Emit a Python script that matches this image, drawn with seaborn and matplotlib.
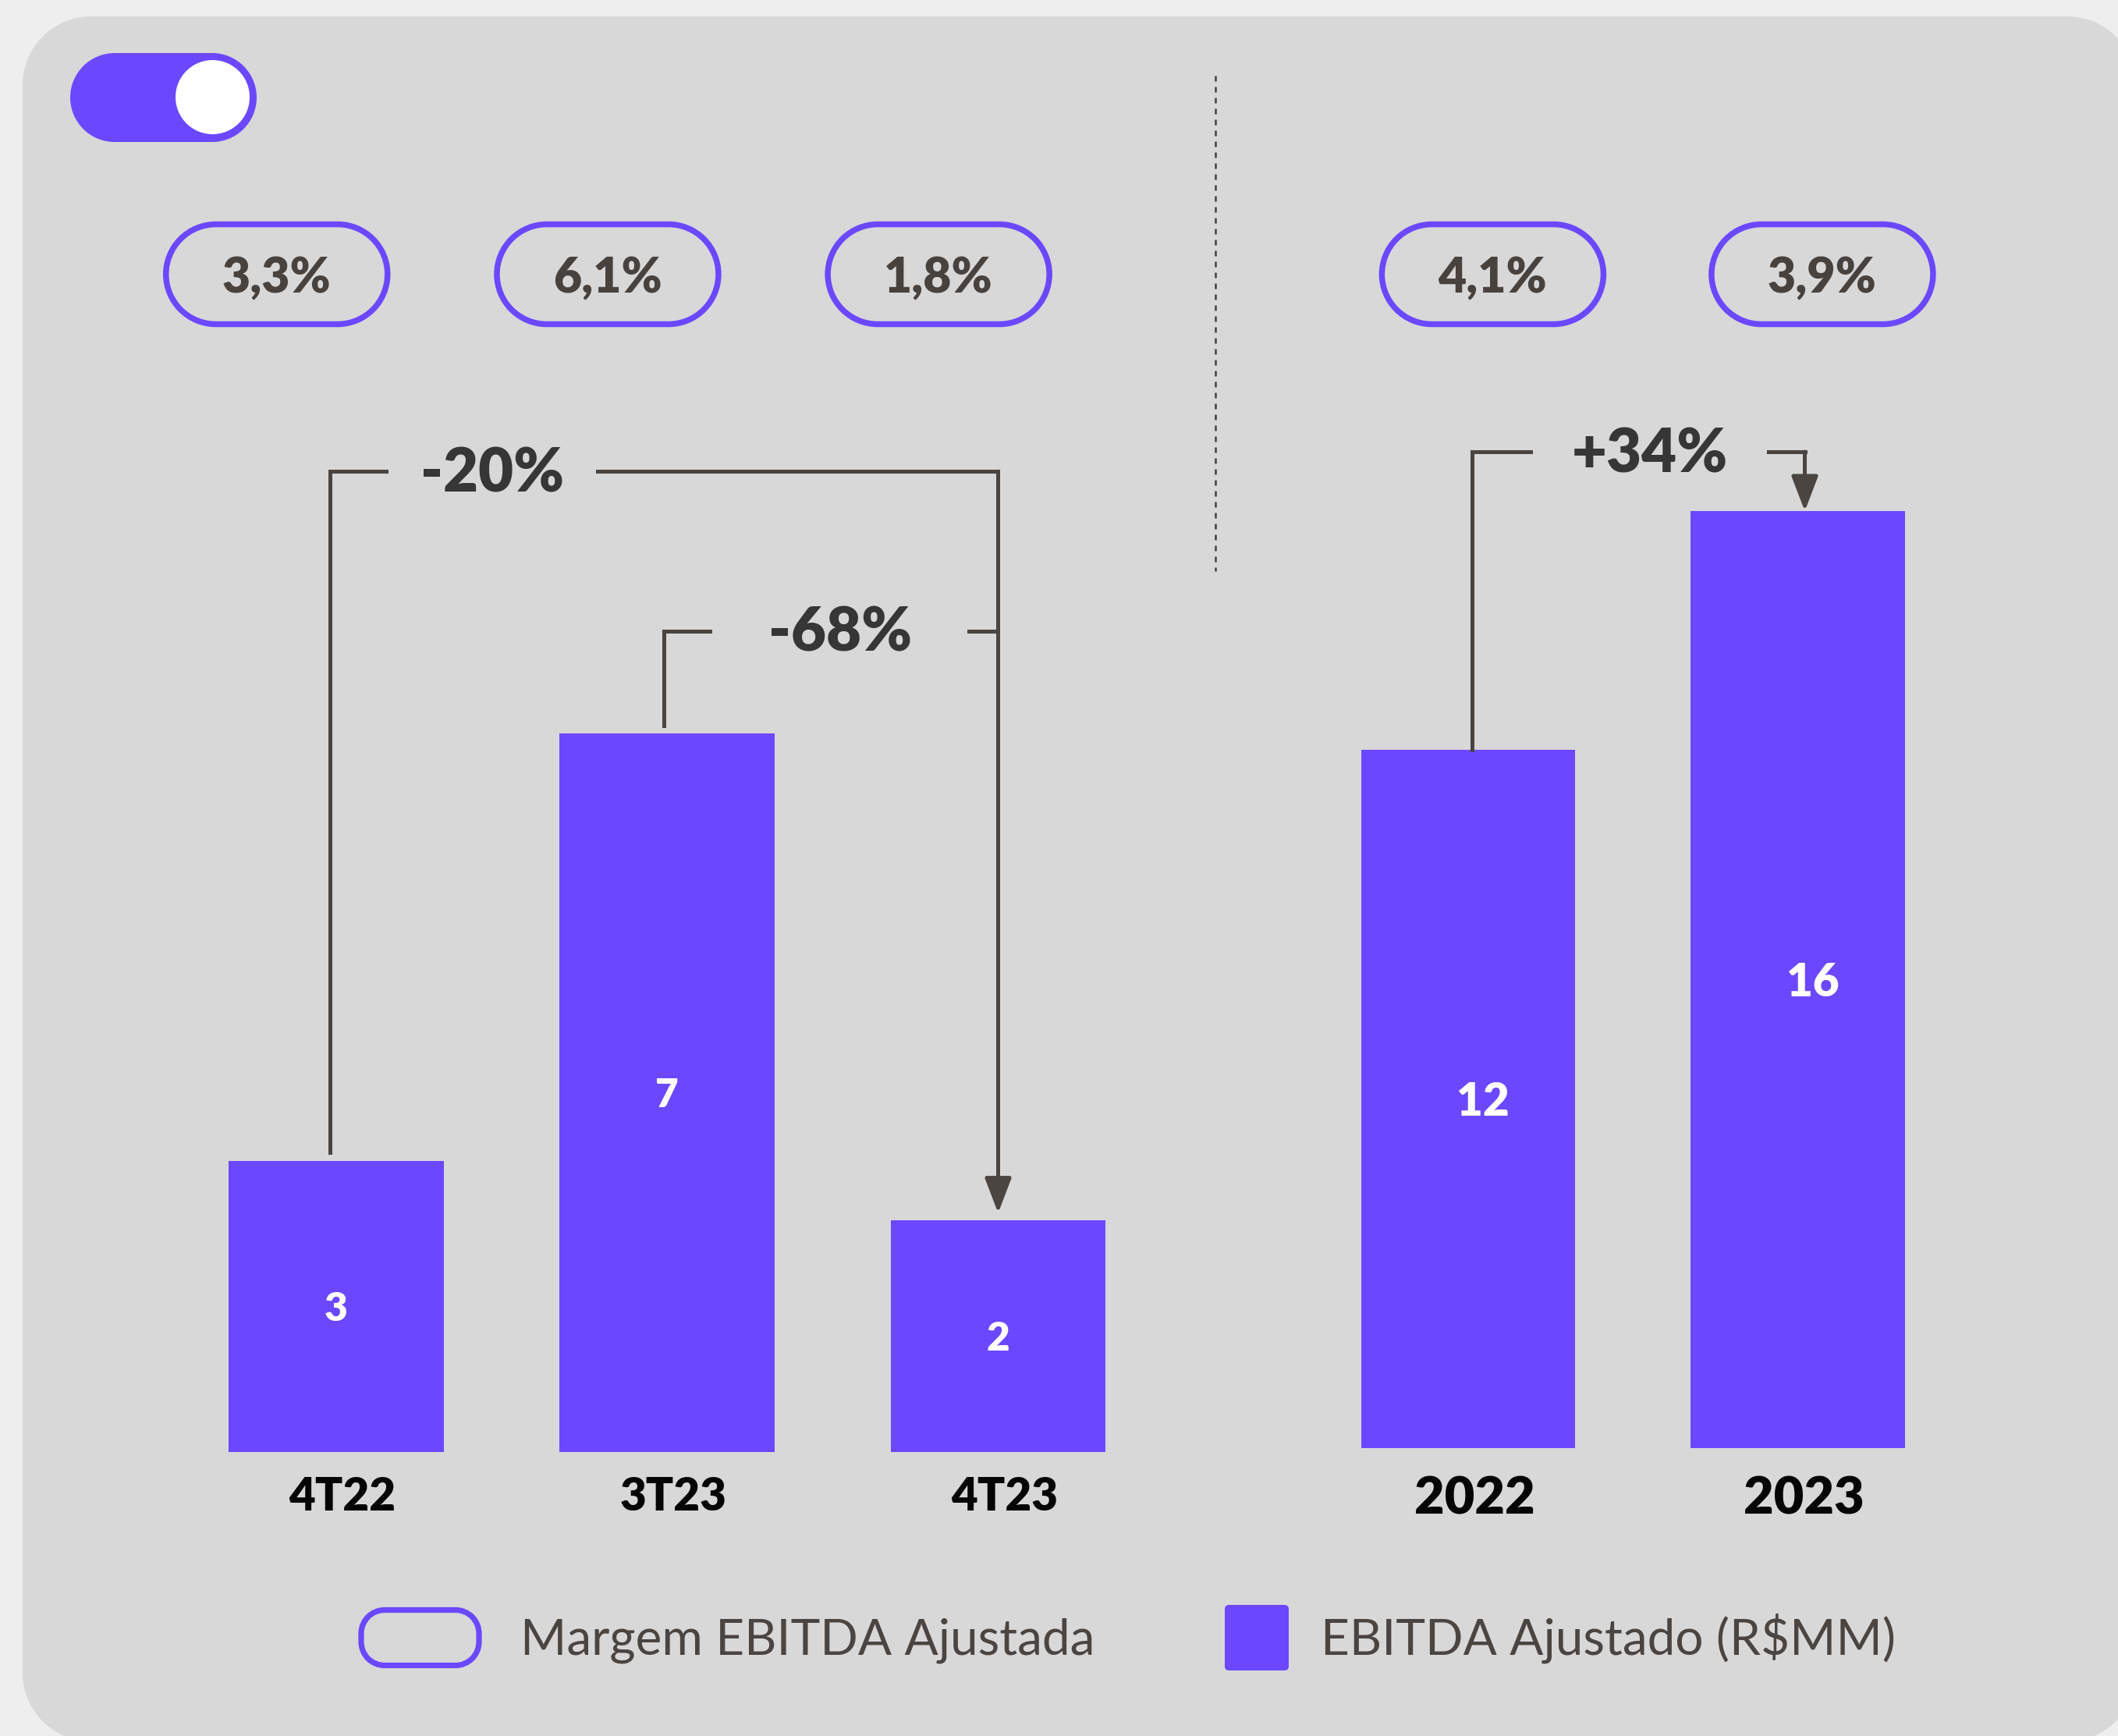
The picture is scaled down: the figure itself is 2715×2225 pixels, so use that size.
#coding:utf-8
import matplotlib
matplotlib.use('Agg')
import matplotlib.pyplot as plt
from matplotlib.patches import PathPatch, Circle
from matplotlib.path import Path
from matplotlib.transforms import ScaledTranslation
import seaborn as sns
import pandas as pd

# dados (EBITDA ajustado em R$MM e margem em %)
quarters = ['4T22', '3T23', '4T23']
ebitda_quarter = [2.84, 7.0, 2.26]
margin_quarter = [3.3, 6.1, 1.8]

years = ['2022', '2023']
ebitda_year = [12.0, 16.1]
margin_year = [4.1, 3.9]

quarter_changes = ['-20%', '-68%']
year_changes = ['+34%']

legend_labels = ['Margem EBITDA Ajustada', 'EBITDA Ajustado (R$MM)']

PURPLE = '#6B48FF'
CARD = '#D8D8D8'
OUTER = '#EEEEEE'
LINE = '#4A4541'
PILL_TEXT = '#48423E'
CHANGE_TEXT = '#363636'

W, H = 2715, 2225
DPI = 100
LW = 3.6


def px_axes(fig, x0, x1, y_base, y_top):
    # eixo posicionado em pixels da figura (y de cima para baixo)
    return fig.add_axes([x0 / W, 1 - y_base / H, (x1 - x0) / W, (y_base - y_top) / H])


def rounded_rect(x0, y0, w, h, r):
    # retângulo com cantos em arco de círculo verdadeiro
    x1, y1 = x0 + w, y0 + h
    parts = [((x1 - r, y0 + r), -90, 0), ((x1 - r, y1 - r), 0, 90),
             ((x0 + r, y1 - r), 90, 180), ((x0 + r, y0 + r), 180, 270)]
    verts, codes = [], []
    for (cx, cy), a0, a1 in parts:
        arc = Path.arc(a0, a1)
        c = list(arc.codes)
        if verts:
            c[0] = Path.LINETO
        verts.extend((arc.vertices * r + [cx, cy]).tolist())
        codes.extend(c)
    verts.append(verts[0])
    codes.append(Path.CLOSEPOLY)
    return Path(verts, codes)


def box(bg, x0, y0, w, h, r, **kw):
    bg.add_patch(PathPatch(rounded_rect(x0, y0, w, h, r), **kw))


def bars(fig, ax, labels, values, ymax, label_size, tick_size, tick_pad, label_dx=0.0):
    df = pd.DataFrame({'periodo': labels, 'ebitda': values})
    sns.barplot(data=df, x='periodo', y='ebitda', ax=ax, color=PURPLE,
                saturation=1, width=0.65, errorbar=None, linewidth=0)
    ax.set_xlim(-0.5, len(labels) - 0.5)
    ax.set_ylim(0, ymax)
    ax.set_facecolor('none')
    for s in ax.spines.values():
        s.set_visible(False)
    ax.set_yticks([])
    ax.set_xlabel('')
    ax.set_ylabel('')
    ax.tick_params(axis='x', length=0, pad=tick_pad)
    shift = ScaledTranslation(8 / DPI, 0, fig.dpi_scale_trans)
    for t in ax.get_xticklabels():
        t.set_fontsize(tick_size)
        t.set_fontweight('heavy')
        t.set_color('#050505')
        t.set_transform(t.get_transform() + shift)

    for i, v in enumerate(values):
        ax.annotate(f'{v:.0f}', (i + label_dx, v / 2), xytext=(0, -label_size * 0.36),
                    textcoords='offset points', ha='center', va='baseline',
                    color='white', fontsize=label_size, fontweight='heavy')


def hline(ax, xs, ys):
    ax.plot(xs, ys, color=LINE, lw=LW, solid_capstyle='projecting',
            solid_joinstyle='miter', clip_on=False)


def arrow(ax, x, y0, y1):
    ax.annotate('', xy=(x, y1), xytext=(x, y0),
                arrowprops=dict(arrowstyle='-|>,head_length=0.55,head_width=0.21',
                                mutation_scale=50, lw=LW, color=LINE,
                                shrinkA=0, shrinkB=0),
                annotation_clip=False)


def change_label(ax, text, x, y):
    ax.annotate(text, (x, y), xytext=(0, -19), textcoords='offset points',
                ha='center', va='baseline', fontsize=56, fontweight='heavy',
                color=CHANGE_TEXT, annotation_clip=False)


def pills(bg, ax, margins, offset):
    for i, m in enumerate(margins):
        xc = ax.transData.transform((i + offset, 0))[0]
        box(bg, xc - 142, 287.5, 284, 128, 64, fc='none', ec=PURPLE, lw=5.4)
        bg.text(xc, 375, f'{m:.1f}'.replace('.', ',') + '%', ha='center',
                va='baseline', fontsize=45, fontweight='heavy', color=PILL_TEXT)


def main():
    sns.set_theme(style='white')
    plt.rcParams['font.family'] = ['Lato', 'DejaVu Sans']

    fig = plt.figure(figsize=(W / DPI, H / DPI), dpi=DPI)
    fig.patch.set_facecolor(OUTER)

    bg = fig.add_axes([0, 0, 1, 1], zorder=0)
    bg.set_xlim(0, W)
    bg.set_ylim(H, 0)
    bg.axis('off')

    # cartão de fundo
    box(bg, 29, 21, 2709, 2211, 88, fc=CARD, ec='none')
    # botão
    box(bg, 90, 68, 239, 114, 57, fc=PURPLE, ec='none')
    bg.add_patch(Circle((272.5, 124.5), 47.5, fc='white', ec='none'))

    # divisória tracejada
    bg.plot([1558, 1558], [97, 732], color='#404040', lw=1.8, dashes=(2.8, 2.8))

    ax_q = px_axes(fig, 219.0, 1491.6, 1861.4, 545.4)
    ax_q.set_zorder(1)
    bars(fig, ax_q, quarters, ebitda_quarter, 10, 37, 42, 22)

    ax_y = px_axes(fig, 1670.9, 2515.9, 1856.2, 364.2)
    ax_y.set_zorder(1)
    bars(fig, ax_y, years, ebitda_year, 20, 42, 48, 25, label_dx=0.045)

    # -20%: 4T22 -> 4T23
    y20 = 9.553
    hline(ax_q, [-0.02, -0.02, 0.151], [ebitda_quarter[0] + 0.08, y20, y20])
    hline(ax_q, [0.79, 2.0], [y20, y20])
    arrow(ax_q, 2.0, y20, ebitda_quarter[2] + 0.07)
    change_label(ax_q, quarter_changes[0], 0.471, y20)

    # -68%: 3T23 -> 4T23
    y68 = 8.0
    hline(ax_q, [0.99, 0.99, 1.129], [ebitda_quarter[1] + 0.08, y68, y68])
    hline(ax_q, [1.912, 2.0], [y68, y68])
    change_label(ax_q, quarter_changes[1], 1.522, y68)

    # +34%: 2022 -> 2023
    y34 = 17.12
    hline(ax_y, [0.012, 0.012, 0.19], [ebitda_year[0], y34, y34])
    hline(ax_y, [0.912, 1.021], [y34, y34])
    arrow(ax_y, 1.021, y34, ebitda_year[1])
    change_label(ax_y, year_changes[0], 0.55, y34)

    # margens
    pills(bg, ax_q, margin_quarter, -0.18)
    pills(bg, ax_y, margin_year, 0.074)

    # legenda
    box(bg, 463, 2063.5, 151, 71, 30, fc='none', ec=PURPLE, lw=5.2)
    bg.text(667, 2120, legend_labels[0], ha='left', va='baseline',
            fontsize=46, color=LINE)
    box(bg, 1570, 2057, 82, 84, 5, fc=PURPLE, ec='none')
    bg.text(1693, 2120, legend_labels[1], ha='left', va='baseline',
            fontsize=46, color=LINE)

    plt.savefig('out.png', dpi=DPI, facecolor=fig.get_facecolor())


if __name__ == "__main__":

    main()
